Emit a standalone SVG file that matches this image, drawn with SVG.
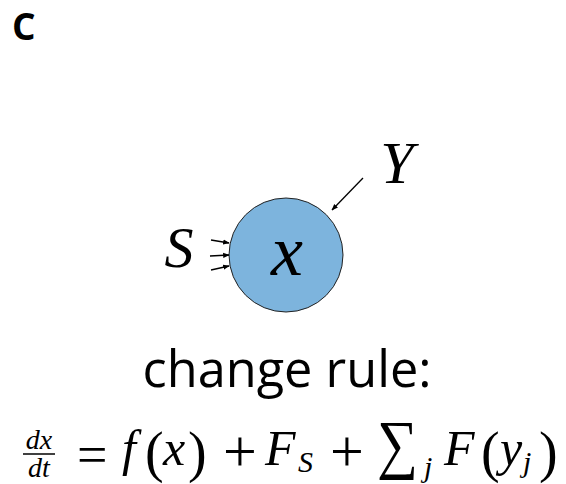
<svg xmlns="http://www.w3.org/2000/svg" width="566" height="484" viewBox="0 0 566 484">
<defs>
<style>
.m{font-family:"Liberation Serif","DejaVu Serif",serif;font-style:italic;fill:#000}
.r{font-family:"Liberation Serif","DejaVu Serif",serif;fill:#000}
.edge{stroke:#000;stroke-width:1.3;fill:none;marker-end:url(#ah)}
</style>
<marker id="ah" viewBox="0 0 10 10" refX="9" refY="5" markerWidth="5" markerHeight="5" orient="auto"><path d="M0,1 L10,5 L0,9 Z" fill="#000"/></marker>
</defs>
<rect width="566" height="484" fill="#fff"/>
<text x="12" y="40" font-family="Open Sans,Liberation Sans,sans-serif" font-weight="bold" font-size="37">C</text>
<g id="node-x">
<circle cx="286" cy="255" r="57" fill="#7db4dd" stroke="#222" stroke-width="1"/>
<text x="287" y="275" class="m" font-size="72" text-anchor="middle">x</text>
</g>
<g id="node-S"><text x="179" y="267" class="m" font-size="58" text-anchor="middle">S</text></g>
<g id="node-Y"><text x="397" y="183" class="m" font-size="60" text-anchor="middle">Y</text></g>
<g id="connectors">
<line class="edge" x1="211" y1="240" x2="229" y2="243"/>
<line class="edge" x1="210" y1="256" x2="229" y2="255"/>
<line class="edge" x1="211" y1="270" x2="229" y2="266"/>
<line class="edge" x1="363" y1="178" x2="332" y2="210"/>
</g>
<text x="287" y="387" font-family="Open Sans,Liberation Sans,sans-serif" font-size="52" text-anchor="middle" textLength="289" lengthAdjust="spacingAndGlyphs">change rule:</text>
<g id="equation">
<text x="39" y="449" class="m" font-size="28" text-anchor="middle">dx</text>
<line x1="23" y1="454" x2="55" y2="454" stroke="#000" stroke-width="1.5"/>
<text x="39" y="477" class="m" font-size="28" text-anchor="middle">dt</text>
<text x="77" y="473" class="r" font-size="54">=</text>
<text x="122" y="465" class="m" font-size="50">f</text>
<text x="145" y="471" class="r" font-size="56">(</text>
<text x="163" y="465" class="m" font-size="50">x</text>
<text x="188" y="471" class="r" font-size="56">)</text>
<text x="223" y="471" class="r" font-size="60">+</text>
<text x="265" y="465" class="m" font-size="50">F</text>
<text x="298" y="472" class="m" font-size="30">S</text>
<text x="330" y="471" class="r" font-size="60">+</text>
<text x="377" y="466" class="r" font-size="66" textLength="41" lengthAdjust="spacingAndGlyphs">∑</text>
<text x="424" y="477" class="m" font-size="30">j</text>
<text x="444" y="465" class="m" font-size="50">F</text>
<text x="481" y="471" class="r" font-size="56">(</text>
<text x="500" y="465" class="m" font-size="50">y</text>
<text x="523" y="472" class="m" font-size="30">j</text>
<text x="539" y="471" class="r" font-size="56">)</text>
</g>
</svg>
